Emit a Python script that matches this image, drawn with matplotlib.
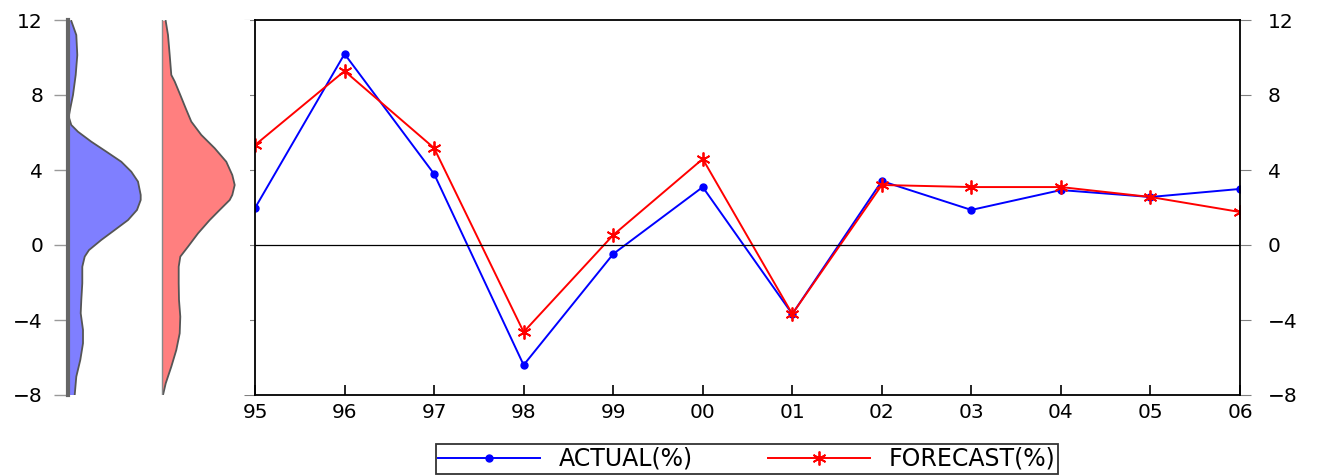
import matplotlib
matplotlib.use("Agg")
import matplotlib.pyplot as plt
import numpy as np

plt.rcParams['font.family'] = ['DejaVu Sans']

years = ["95", "96", "97", "98", "99", "00", "01", "02", "03", "04", "05", "06"]
actual = [1.97, 10.19, 3.79, -6.4, -0.48, 3.09, -3.68, 3.41, 1.87, 2.93, 2.56, 2.99]
forecast = [5.33, 9.28, 5.17, -4.64, 0.53, 4.59, -3.68, 3.2, 3.09, 3.09, 2.56, 1.76]

# density profiles (value level -> width)
dens_y_blue = [11.95, 11.2, 10.13, 9.07, 8.0, 7.29, 6.84, 6.4, 6.04, 5.51, 4.98, 4.44, 3.91, 3.38,
               2.67, 2.4, 1.87, 1.33, 0.8, 0.27, -0.27, -0.62, -1.16, -2.04, -2.93, -3.64, -4.53,
               -5.24, -6.13, -7.02, -8.0]
dens_blue = [3.3, 8.3, 9.3, 7.7, 5.0, 2.3, 0.7, 3.3, 10.0, 23.3, 38.3, 53.3, 63.3, 70.0,
             72.7, 72.7, 69.0, 60.0, 46.7, 33.3, 21.0, 16.7, 14.3, 14.3, 13.3, 12.7, 15.0,
             15.0, 12.3, 8.3, 6.7]
dens_y_red = [11.95, 11.2, 10.13, 9.07, 8.72, 8.0, 7.29, 6.58, 5.87, 5.16, 4.44, 3.73, 3.2, 2.67,
              2.4, 1.87, 1.33, 0.62, -0.09, -0.62, -1.16, -2.04, -2.93, -3.82, -4.71, -5.6,
              -6.49, -7.38, -8.0]
dens_red = [3.7, 6.0, 7.7, 9.3, 12.7, 18.3, 23.7, 29.3, 39.3, 52.7, 64.3, 70.3, 72.7, 70.3,
            67.7, 57.7, 47.7, 36.0, 26.0, 18.3, 16.7, 16.7, 17.0, 18.3, 17.7, 14.3,
            9.3, 3.7, 1.0]

W, H = 1319, 475
fig = plt.figure(figsize=(W / 100, H / 100), dpi=100)

top = 1 - 20 / H
bot = 1 - 395 / H
ax = fig.add_axes([255 / W, bot, (1240 - 255) / W, top - bot])
x = np.arange(len(years))
ax.plot(x, actual, color='blue', marker='o', markersize=5, lw=1.4, label='ACTUAL(%)')
ax.plot(x, forecast, color='red', marker=(6, 2, 0), markersize=10, mew=1.3, lw=1.4,
        label='FORECAST(%)')
ax.axhline(0, color='black', lw=0.9)
ax.set_xlim(0, len(years) - 1)
ax.set_ylim(-8, 12)
ax.set_xticks(x)
ax.set_xticklabels(years, fontsize=14.5)
ax.set_yticks([-8, -4, 0, 4, 8, 12])
ax.tick_params(axis='x', direction='in', length=7, width=1.2, color='black', pad=6)
ax.tick_params(axis='y', left=True, right=True, labelleft=False, labelright=True,
               direction='out', length=8, color='gray', labelsize=14.5, pad=12)
for s in ax.spines.values():
    s.set_color('black')
    s.set_linewidth(1.3)

# density side panel (x in pixel units)
dax = fig.add_axes([68 / W, bot, (250 - 68) / W, top - bot])
dax.set_xlim(0, 182)
dax.set_ylim(-8, 12)
bx = np.array(dens_blue)
rx = np.array(dens_red)
red_base = 162 - 68
dax.fill_betweenx(dens_y_blue, 0, bx, facecolor='#7F7FFF', edgecolor='none')
dax.plot(bx, dens_y_blue, color='#555555', lw=1.3, solid_joinstyle='round')
dax.fill_betweenx(dens_y_red, red_base, red_base + rx, facecolor='#FF7F7F', edgecolor='none')
dax.plot(red_base + rx, dens_y_red, color='#555555', lw=1.3, solid_joinstyle='round')
dax.plot([red_base, red_base], [-8, 12], color='#888888', lw=1.0)
for s in ['top', 'right', 'bottom']:
    dax.spines[s].set_visible(False)
dax.spines['left'].set_color('#666666')
dax.spines['left'].set_linewidth(3)
dax.set_xticks([])
dax.set_yticks([-8, -4, 0, 4, 8, 12])
dax.tick_params(axis='y', direction='out', length=10, width=1, color='#999999',
                labelsize=14.5, pad=8)

leg = fig.legend(handles=ax.get_lines()[:2], loc='lower center', ncol=2,
                 bbox_to_anchor=(747 / W, 0.0), fontsize=17, frameon=True,
                 fancybox=False, edgecolor='black', handlelength=4.3,
                 columnspacing=3.2, borderpad=0.12, handletextpad=0.8,
                 borderaxespad=0.05)
leg.get_frame().set_linewidth(1.3)

fig.savefig('out.png', dpi=100)
